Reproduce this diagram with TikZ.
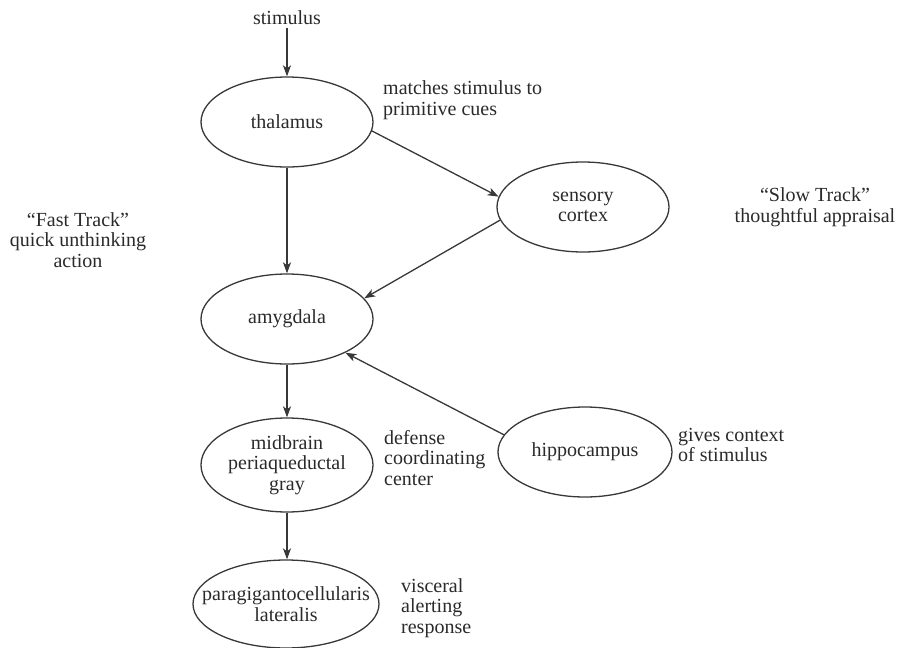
\documentclass[tikz,border=0pt]{standalone}
\usepackage{fontspec}
\setmainfont{Liberation Serif}
\newfontfamily\diagfont{Liberation Serif}
\usetikzlibrary{shapes.geometric,arrows.meta}
\definecolor{ink}{HTML}{2A2A2A}
\definecolor{edge}{HTML}{383838}
\begin{document}
\begin{tikzpicture}[x=1pt,y=-1pt,
  every node/.style={text=ink,font=\diagfont\fontsize{20}{20.5}\selectfont},
  region/.style={ellipse,draw=edge,line width=1.3pt,inner ysep=0pt,inner xsep=-40pt,align=center},
  note/.style={align=left,anchor=west,inner sep=0pt},
  headnote/.style={align=center,inner sep=0pt},
  link/.style={draw=edge,line width=1.3pt,-{Stealth[length=11pt,width=8pt,inset=3pt]}}]
\useasboundingbox (0,0) rectangle (900,648);
\node[inner sep=3pt] (stim) at (287,18) {stimulus};
\node[region,minimum width=172pt,minimum height=90pt] (thal) at (287,122) {thalamus};
\node[region,minimum width=172pt,minimum height=90pt] (sens) at (583,207) {sensory\\cortex};
\node[region,minimum width=172pt,minimum height=90pt] (amyg) at (287,319) {amygdala};
\node[region,minimum width=172pt,minimum height=94pt] (mid) at (287,465) {midbrain\\periaqueductal\\gray};
\node[region,minimum width=174pt,minimum height=90pt] (hipp) at (585,452) {hippocampus};
\node[region,minimum width=186pt,minimum height=88pt] (para) at (286,604) {paragigantocellularis\\lateralis};

\node[note] (n1) at (383,100) {matches stimulus to\\primitive cues};
\node[headnote] (n2) at (815,207) {“Slow Track”\\thoughtful appraisal};
\node[headnote] (n3) at (78,240) {“Fast Track”\\quick unthinking\\action};
\node[note] (n4) at (384,458) {defense\\coordinating\\center};
\node[note] (n5) at (678,445) {gives context\\of stimulus};
\node[note] (n6) at (401,608) {visceral\\alerting\\response};

\draw[link] (stim.south) -- (thal.north);
\draw[link] (thal.-6) -- (sens.173);
\draw[link] (thal.south) -- (amyg.north);
\draw[link] (sens.189) -- (amyg.15);
\draw[link] (hipp.168) -- (amyg.-30);
\draw[link] (amyg.south) -- (mid.north);
\draw[link] (mid.south) -- (mid.south |- para.north);
\end{tikzpicture}
\end{document}
